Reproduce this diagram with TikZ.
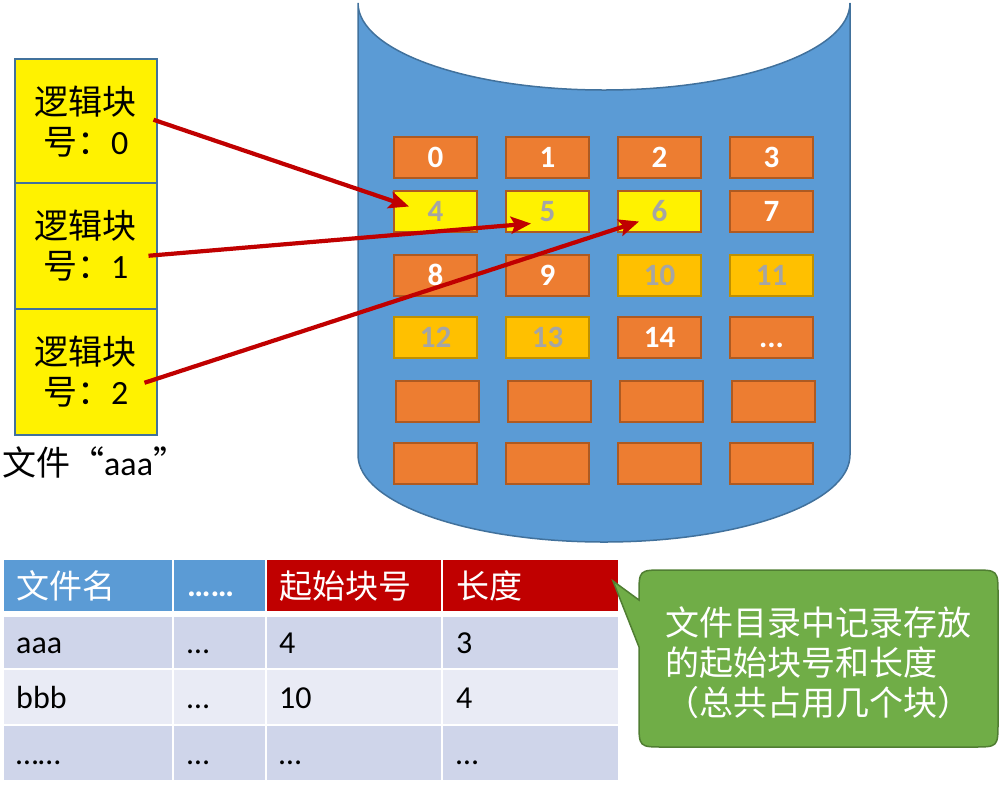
\documentclass[tikz,border=0pt]{standalone}
\usepackage{fontspec}
\setmainfont{Carlito}
\newfontfamily\cjk{Noto Sans CJK SC}
\usetikzlibrary{arrows.meta,calc}
\definecolor{cylblue}{HTML}{5B9BD5}
\definecolor{cylline}{HTML}{41719C}
\definecolor{blkorange}{HTML}{ED7D31}
\definecolor{blkline}{HTML}{AE5A21}
\definecolor{blkgold}{HTML}{FFC000}
\definecolor{goldline}{HTML}{BF9000}
\definecolor{txtgray}{HTML}{A5A5A5}
\definecolor{arrred}{HTML}{C00000}
\definecolor{rowA}{HTML}{CFD5EA}
\definecolor{rowB}{HTML}{E9EBF5}
\definecolor{callgreen}{HTML}{70AD47}
\definecolor{callline}{HTML}{507E32}
\begin{document}
\begin{tikzpicture}[x=1pt,y=-1pt,
  blk/.style={draw=blkline, line width=2pt, fill=blkorange, minimum width=83pt, minimum height=41pt,
    inner sep=0pt, anchor=north west, text=white, font=\fontsize{31}{31}\selectfont\bfseries,
    text height=20pt, text depth=0pt},
  blky/.style={blk, fill=yellow, text=txtgray},
  blkg/.style={blk, fill=blkgold, draw=goldline, text=txtgray},
  lbox/.style={draw=cylline, line width=1.5pt, fill=yellow, minimum width=142pt, minimum height=125pt,
    anchor=north west, align=center, font=\fontsize{34}{40}\selectfont, inner sep=0pt},
  arr/.style={draw=arrred, line width=4.2pt, -{Stealth[length=20pt,width=17pt,inset=4pt]}},
  cellbox/.style={draw=white, line width=2pt, anchor=north west, inner sep=0pt, minimum width=#1},
  ctext/.style={anchor=base west, inner sep=0pt, font=\fontsize{32}{32}\selectfont},
  htext/.style={ctext, text=white, font=\fontsize{33}{33}\selectfont},
  calltext/.style={align=left, text=white, font=\fontsize{34}{40}\selectfont\cjk, inner sep=0pt}
]
\useasboundingbox (0,0) rectangle (1006,788);

% cylinder (disk)
\draw[draw=cylline, line width=1.5pt, fill=cylblue]
  (358,3) -- (358,455) .. controls (358,503) and (468,542) .. (604,542)
  .. controls (740,542) and (850,503) .. (850,455) -- (850,3)
  .. controls (850,51) and (740,90) .. (604,90)
  .. controls (468,90) and (358,51) .. (358,3) -- cycle;

% blocks
\node[blk]  (b0)  at (393,136) {0};
\node[blk]  (b1)  at (505,136) {1};
\node[blk]  (b2)  at (617,136) {2};
\node[blk]  (b3)  at (729,136) {3};
\node[blky] (b4)  at (393,190) {4};
\node[blky] (b5)  at (505,190) {5};
\node[blky] (b6)  at (617,190) {6};
\node[blk]  (b7)  at (729,190) {7};
\node[blk]  (b8)  at (393,254) {8};
\node[blk]  (b9)  at (505,254) {9};
\node[blkg] (b10) at (617,254) {10};
\node[blkg] (b11) at (729,254) {11};
\node[blkg] (b12) at (393,316) {12};
\node[blkg] (b13) at (505,316) {13};
\node[blk]  (b14) at (617,316) {14};
\node[blk]  (b15) at (729,316) {...};
\node[blk]  (e0)  at (395,380) {};
\node[blk]  (e1)  at (507,380) {};
\node[blk]  (e2)  at (619,380) {};
\node[blk]  (e3)  at (731,380) {};
\node[blk]  (e4)  at (393,442) {};
\node[blk]  (e5)  at (505,442) {};
\node[blk]  (e6)  at (617,442) {};
\node[blk]  (e7)  at (729,442) {};

% logical blocks of file aaa
\node[lbox] (lb0) at (14,58)  {{\cjk 逻辑块}\\{\cjk 号：}0};
\node[lbox, minimum height=126pt] (lb1) at (14,182) {{\cjk 逻辑块}\\{\cjk 号：}1};
\node[lbox, minimum height=126pt] (lb2) at (14,308) {{\cjk 逻辑块}\\{\cjk 号：}2};
\node[anchor=west, inner sep=0pt, font=\fontsize{34}{40}\selectfont] (fname) at (2,462)
  {{\cjk 文件“}aaa{\cjk ”}};

% arrows
\draw[arr] ($(lb0.east)+(-4,-1.5)$) -- ($(b4.center)+(-26.5,-5)$);
\draw[arr] ($(lb1.east)+(-9,10)$) -- ($(b5.center)+(-16.5,12)$);
\draw[arr] ($(lb2.east)+(-13,11)$) -- ($(b6.center)+(-20.5,10)$);

% directory table
\node[cellbox=171pt, minimum height=53pt, fill=cylblue] (h1) at (2,558) {};
\node[cellbox=93pt,  minimum height=53pt, fill=cylblue] (h2) at (172,558) {};
\node[cellbox=176pt, minimum height=53pt, fill=arrred]  (h3) at (265,558) {};
\node[cellbox=177pt, minimum height=53pt, fill=arrred]  (h4) at (441,558) {};
\node[cellbox=171pt, minimum height=53pt, fill=rowA] (r11) at (2,615) {};
\node[cellbox=93pt,  minimum height=53pt, fill=rowA] (r12) at (172,615) {};
\node[cellbox=176pt, minimum height=53pt, fill=rowA] (r13) at (265,615) {};
\node[cellbox=177pt, minimum height=53pt, fill=rowA] (r14) at (441,615) {};
\node[cellbox=171pt, minimum height=56pt, fill=rowB] (r21) at (2,668) {};
\node[cellbox=93pt,  minimum height=56pt, fill=rowB] (r22) at (172,668) {};
\node[cellbox=176pt, minimum height=56pt, fill=rowB] (r23) at (265,668) {};
\node[cellbox=177pt, minimum height=56pt, fill=rowB] (r24) at (441,668) {};
\node[cellbox=171pt, minimum height=56pt, fill=rowA] (r31) at (2,724) {};
\node[cellbox=93pt,  minimum height=56pt, fill=rowA] (r32) at (172,724) {};
\node[cellbox=176pt, minimum height=56pt, fill=rowA] (r33) at (265,724) {};
\node[cellbox=177pt, minimum height=56pt, fill=rowA] (r34) at (441,724) {};

\node[htext] (th1) at ($(h1.west)+(14,12.5)$) {\cjk 文件名};
\node[htext, font=\fontsize{33}{33}\selectfont\bfseries] (th2) at ($(h2.west)+(15,11)$) {……};
\node[htext] (th3) at ($(h3.west)+(14,12.5)$) {\cjk 起始块号};
\node[htext] (th4) at ($(h4.west)+(15,12.5)$) {\cjk 长度};
\node[ctext] (t11) at ($(r11.west)+(14,11)$) {aaa};
\node[ctext] (t12) at ($(r12.west)+(15,11)$) {…};
\node[ctext] (t13) at ($(r13.west)+(14,11)$) {4};
\node[ctext] (t14) at ($(r14.west)+(15,11)$) {3};
\node[ctext] (t21) at ($(r21.west)+(14,11)$) {bbb};
\node[ctext] (t22) at ($(r22.west)+(15,11)$) {…};
\node[ctext] (t23) at ($(r23.west)+(14,11)$) {10};
\node[ctext] (t24) at ($(r24.west)+(15,11)$) {4};
\node[ctext] (t31) at ($(r31.west)+(14,11)$) {……};
\node[ctext] (t32) at ($(r32.west)+(15,11)$) {…};
\node[ctext] (t33) at ($(r33.west)+(14,11)$) {…};
\node[ctext] (t34) at ($(r34.west)+(15,11)$) {…};

% callout
\draw[fill=callgreen, draw=callline, line width=1.5pt]
  (639,600) -- (613,581) -- (639,647) -- (639,722) .. controls (639,747) .. (664,747)
  -- (973,747) .. controls (998,747) .. (998,722) -- (998,595) .. controls (998,570) .. (973,570)
  -- (664,570) .. controls (639,570) .. (639,595) -- cycle;
\node[calltext] (ct) at (818.5,663) {文件目录中记录存放\\的起始块号和长度\\（总共占用几个块）};
\end{tikzpicture}
\end{document}
